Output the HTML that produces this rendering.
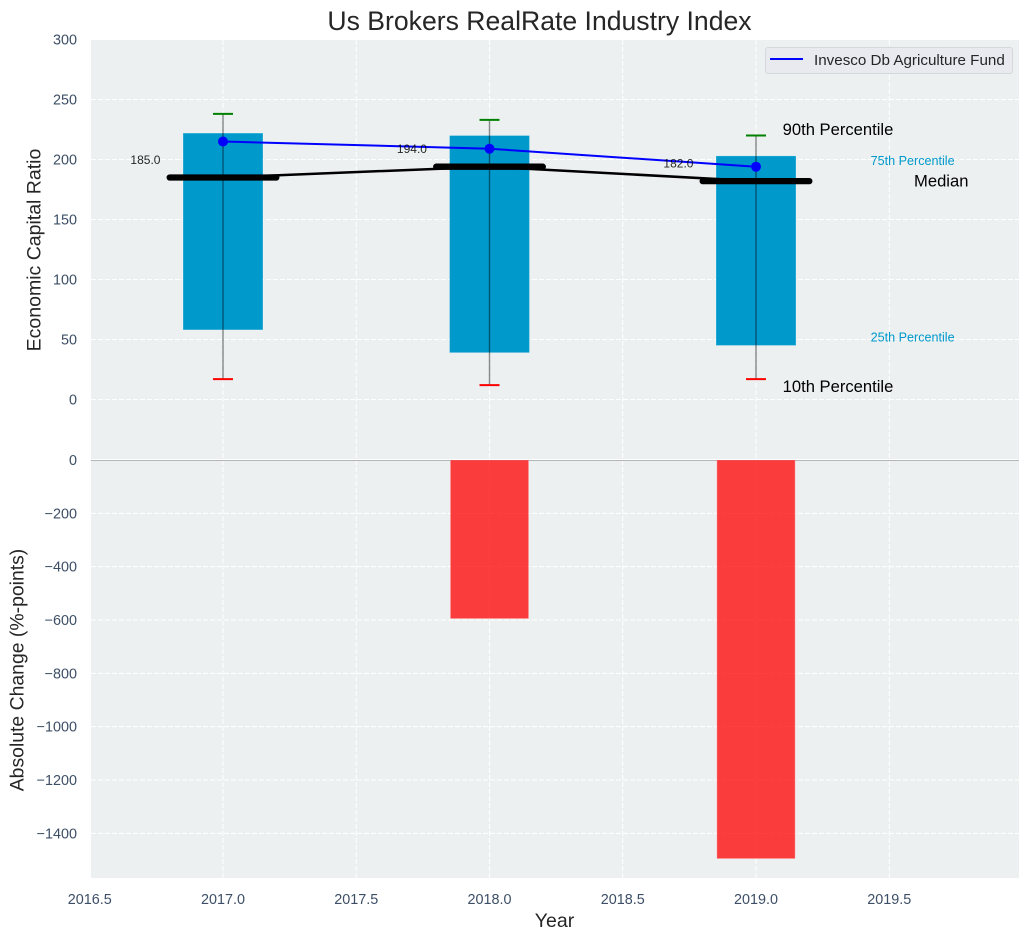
<!DOCTYPE html>
<html>
<head>
<meta charset="utf-8">
<style>
html,body{margin:0;padding:0;background:#fff;}
svg{display:block;font-family:"Liberation Sans",Arial,sans-serif;}
</style>
</head>
<body>
<svg id="chart" xmlns="http://www.w3.org/2000/svg" width="1029" height="940" viewBox="0 0 1029 940">
  <rect x="91" y="40" width="928" height="420" fill="#ecf0f1"/>
  <rect x="91" y="460" width="928" height="418" fill="#ecf0f1"/>
  <g id="grid"></g>
  <g id="marks"></g>
  <g id="ticks" font-size="14.4" fill="#3d4f66"></g>
  <text x="539.5" y="30" text-anchor="middle" font-size="26.6" fill="#262626">Us Brokers RealRate Industry Index</text>
  <text transform="translate(40.5,250) rotate(-90)" text-anchor="middle" font-size="19.5" fill="#262626">Economic Capital Ratio</text>
  <text transform="translate(23.5,670) rotate(-90)" text-anchor="middle" font-size="19.4" fill="#262626">Absolute Change (%-points)</text>
  <text x="554.5" y="927" text-anchor="middle" font-size="19.5" fill="#262626">Year</text>
  <g>
    <rect x="765.5" y="47.5" width="247" height="26" rx="2.5" fill="#e8eaef" stroke="#d5d7da" stroke-width="1"/>
    <line x1="770" x2="803" y1="59" y2="59" stroke="#0000ff" stroke-width="2"/>
    <text x="814" y="65" font-size="15.2" fill="#262626">Invesco Db Agriculture Fund</text>
  </g>
</svg>
<script>
var years = [2017, 2018, 2019];
var p90 = [238, 233, 220];
var p75 = [222, 220, 203];
var medians = [185, 194, 182];
var p25 = [58, 39, 45];
var p10 = [17, 12, 17];
var fundValues = [215, 209, 194];
var absoluteChange = [0, -595, -1495];
var xTicks = [2016.5, 2017.0, 2017.5, 2018.0, 2018.5, 2019.0, 2019.5];
var upperTicks = [0, 50, 100, 150, 200, 250, 300];
var lowerTicks = [0, -200, -400, -600, -800, -1000, -1200, -1400];

var NS = 'http://www.w3.org/2000/svg';
var gridG = document.getElementById('grid');
var marksG = document.getElementById('marks');
var ticksG = document.getElementById('ticks');

function X(v) { return 223 + (v - 2017) * 266.5; }
function YU(v) { return 399.5 - v * 1.2; }
function YL(v) { return 460 + v * -0.26667; }

function make(parent, tag, attrs, text) {
  var el = document.createElementNS(NS, tag);
  for (var k in attrs) el.setAttribute(k, attrs[k]);
  if (text !== undefined) el.textContent = text;
  parent.appendChild(el);
  return el;
}
var el;

// grid and tick labels
xTicks.forEach(function (t) {
  if (X(t) > 91) {
    el = make(gridG, 'line', {x1: X(t), x2: X(t), y1: 40, y2: 878, stroke: '#fff', 'stroke-width': 1, 'stroke-dasharray': '5 2'});
    
    
  }
  el = make(ticksG, 'text', {x: X(t), y: 904, 'text-anchor': 'middle'}, t.toFixed(1));
  
  
});
upperTicks.forEach(function (t) {
  el = make(gridG, 'line', {x1: 91, x2: 1019, y1: YU(t), y2: YU(t), stroke: '#fff', 'stroke-width': 1, 'stroke-dasharray': '5 2'});
  
  
  el = make(ticksG, 'text', {x: 77, y: YU(t) + 5, 'text-anchor': 'end'}, String(t));
  
  
});
lowerTicks.forEach(function (t) {
  if (t !== 0) {
    el = make(gridG, 'line', {x1: 91, x2: 1019, y1: YL(t), y2: YL(t), stroke: '#fff', 'stroke-width': 1, 'stroke-dasharray': '5 2'});
    
    
  }
  el = make(ticksG, 'text', {x: 77, y: YL(t) + 5, 'text-anchor': 'end'}, String(t).replace('-', '\u2212'));
  
  
});

// divider between panels
el = make(marksG, 'line', {x1: 91, x2: 1019, y1: 459.5, y2: 459.5, stroke: '#ffffff', 'stroke-width': 1});


el = make(marksG, 'line', {x1: 91, x2: 1019, y1: 460.5, y2: 460.5, stroke: '#b4b6b8', 'stroke-width': 1});



// lower bars
years.forEach(function (y, i) {
  var top = YL(0), bot = YL(absoluteChange[i]);
  if (bot - top > 0.5) {
    el = make(marksG, 'rect', {x: X(y - 0.147), y: top, width: X(y + 0.147) - X(y - 0.147), height: bot - top, fill: '#ff0000', 'fill-opacity': 0.75, stroke: '#ffffff', 'stroke-opacity': 0.3, 'stroke-width': 1});
    
    
  }
});

// upper boxes
years.forEach(function (y, i) {
  el = make(marksG, 'rect', {x: X(y - 0.15), y: YU(p75[i]), width: X(y + 0.15) - X(y - 0.15), height: YU(p25[i]) - YU(p75[i]), fill: '#0099cc', stroke: '#ffffff', 'stroke-opacity': 0.25, 'stroke-width': 1});
  
  
});

// median connecting line
el = make(marksG, 'polyline', {points: years.map(function (y, i) { return X(y) + ',' + YU(medians[i]); }).join(' '), fill: 'none', stroke: '#000', 'stroke-width': 2.5});



// whiskers, caps, medians
years.forEach(function (y, i) {
  el = make(marksG, 'line', {x1: X(y), x2: X(y), y1: YU(p10[i]), y2: YU(p90[i]), stroke: '#000', 'stroke-opacity': 0.45, 'stroke-width': 1.4});
  
  
  el = make(marksG, 'line', {x1: X(y - 0.0375), x2: X(y + 0.0375), y1: YU(p90[i]), y2: YU(p90[i]), stroke: '#008000', 'stroke-width': 2});
  
  
  el = make(marksG, 'line', {x1: X(y - 0.0375), x2: X(y + 0.0375), y1: YU(p10[i]), y2: YU(p10[i]), stroke: '#ff0000', 'stroke-width': 2});
  
  
  el = make(marksG, 'line', {x1: X(y - 0.2), x2: X(y + 0.2), y1: YU(medians[i]), y2: YU(medians[i]), stroke: '#000', 'stroke-width': 6.3, 'stroke-linecap': 'round'});
  
  
});

// fund line and points
el = make(marksG, 'polyline', {points: years.map(function (y, i) { return X(y) + ',' + YU(fundValues[i]); }).join(' '), fill: 'none', stroke: '#0000ff', 'stroke-width': 2});


years.forEach(function (y, i) {
  el = make(marksG, 'circle', {cx: X(y), cy: YU(fundValues[i]), r: 5, fill: '#0000ff'});
  
  
});
years.forEach(function (y, i) {
  el = make(marksG, 'text', {x: X(y - 0.291), y: YU(medians[i] + 15) + 4.3, 'text-anchor': 'middle', 'font-size': 12, fill: '#000', 'fill-opacity': 0.85}, medians[i].toFixed(1));
  
  
});

// percentile annotations next to the last year
var n = years.length - 1;
var lastYear = years[n];
el = make(marksG, 'text', {x: X(lastYear + 0.1), y: YU(p90[n] + 5) + 5.5, 'font-size': 16.6, fill: '#000'}, '90th Percentile');


el = make(marksG, 'text', {x: X(lastYear + 0.43), y: YU(p75[n] - 4) + 4.5, 'font-size': 12.6, fill: '#0099cc'}, '75th Percentile');


el = make(marksG, 'text', {x: X(lastYear + 0.593), y: YU(medians[n]) + 5.5, 'font-size': 16.6, fill: '#000'}, 'Median');


el = make(marksG, 'text', {x: X(lastYear + 0.43), y: YU(p25[n] + 7) + 4.5, 'font-size': 12.6, fill: '#0099cc'}, '25th Percentile');


el = make(marksG, 'text', {x: X(lastYear + 0.1), y: YU(p10[n] - 6) + 5.5, 'font-size': 16.6, fill: '#000'}, '10th Percentile');


</script>
</body>
</html>
